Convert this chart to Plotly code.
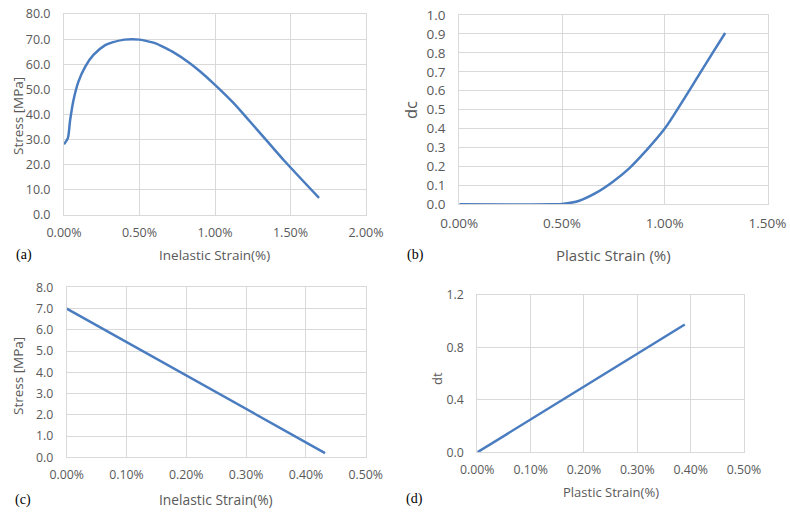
import plotly.graph_objects as go

W, H = 790, 512

# ---------------- data ----------------
# (a) compressive stress vs inelastic strain (strain as fraction)
a_strain = [0.0, 0.00025, 0.0004, 0.00062, 0.00095, 0.0014, 0.00195, 0.00273, 0.0032,
            0.0040, 0.0045, 0.0050, 0.0055, 0.00607, 0.0065, 0.00718, 0.00829, 0.0090,
            0.0100, 0.01122, 0.01233, 0.01344, 0.01456, 0.01689]
a_stress = [28.2, 30.5, 37.5, 45.5, 53.0, 59.0, 63.7, 67.6, 68.7,
            69.8, 70.0, 69.8, 69.2, 68.3, 67.1, 65.0, 60.6, 57.2,
            51.8, 44.6, 37.1, 29.5, 21.8, 6.8]

# (b) compressive damage dc vs plastic strain
b_strain = [0.0, 0.0045, 0.0050, 0.00584, 0.00665, 0.00746, 0.00827, 0.00908,
            0.0100, 0.01087, 0.0117, 0.01236, 0.01294]
b_dc = [0.0, 0.0, 0.002, 0.019, 0.060, 0.118, 0.190, 0.282,
        0.40, 0.545, 0.69, 0.805, 0.905]

# (c) tensile stress vs inelastic strain
c_strain = [0.0, 0.00432]
c_stress = [7.0, 0.2]

# (d) tensile damage dt vs plastic strain
d_strain = [0.0, 0.00389]
d_dt = [0.0, 0.975]

# --------------- styling ---------------
LINE = "#4A7CC0"
GRID = "#D9D9D9"
TXT = "#595959"
FONT = "Open Sans"


def px_x(p):
    return p / W


def px_y(p):
    return 1 - p / H


fig = go.Figure()
fig.add_trace(go.Scatter(x=a_strain, y=a_stress, mode="lines", line_shape="spline",
                         line=dict(color=LINE, width=2.5, smoothing=0.8),
                         xaxis="x", yaxis="y"))
fig.add_trace(go.Scatter(x=b_strain, y=b_dc, mode="lines", line_shape="spline",
                         line=dict(color=LINE, width=2.5, smoothing=1.0),
                         xaxis="x2", yaxis="y2"))
fig.add_trace(go.Scatter(x=c_strain, y=c_stress, mode="lines",
                         line=dict(color=LINE, width=2.5), xaxis="x3", yaxis="y3"))
fig.add_trace(go.Scatter(x=d_strain, y=d_dt, mode="lines",
                         line=dict(color=LINE, width=2.5), xaxis="x4", yaxis="y4"))


def xax(dom, rng, dt, anchor, size):
    return dict(domain=[px_x(dom[0]), px_x(dom[1])], range=rng, dtick=dt, tick0=0,
                tickformat=".2%", anchor=anchor, showgrid=True, gridcolor=GRID,
                gridwidth=1, showline=True, linecolor=GRID, linewidth=1, mirror=True,
                zeroline=False, ticks="", tickfont=dict(family=FONT, size=size, color=TXT),
                ticklabelstandoff=6, fixedrange=True, automargin=False)


def yax(dom, rng, dt, anchor, size):
    return dict(domain=[px_y(dom[1]), px_y(dom[0])], range=rng, dtick=dt, tick0=0,
                tickformat=".1f", anchor=anchor, showgrid=True, gridcolor=GRID,
                gridwidth=1, showline=True, linecolor=GRID, linewidth=1, mirror=True,
                zeroline=False, ticks="", tickfont=dict(family=FONT, size=size, color=TXT),
                ticklabelstandoff=10, fixedrange=True, automargin=False)


fig.update_layout(
    width=W, height=H, margin=dict(l=0, r=0, t=0, b=0, autoexpand=False),
    paper_bgcolor="white", plot_bgcolor="white", showlegend=False,
    xaxis=xax((64, 366), [0, 0.02], 0.005, "y", 12.5),
    yaxis=yax((14, 215), [0, 80], 10, "x", 12.5),
    xaxis2=xax((459.3, 767.5), [0, 0.015], 0.005, "y2", 13.5),
    yaxis2=yax((15, 204.3), [0, 1.0], 0.1, "x2", 13.5),
    xaxis3=xax((66.7, 365.7), [0, 0.005], 0.001, "y3", 12.3),
    yaxis3=yax((287.3, 457.3), [0, 8], 1, "x3", 12.3),
    xaxis4=xax((477.3, 744), [0, 0.005], 0.001, "y4", 12.3),
    yaxis4=yax((295, 452.3), [0, 1.2], 0.4, "x4", 12.3),
)

annots = [
    # x-axis titles
    ("Inelastic Strain(%)", 214, 255, 13.5, 0, FONT, TXT),
    ("Plastic Strain (%)", 613, 255, 15, 0, FONT, TXT),
    ("Inelastic Strain(%)", 216, 499, 13.8, 0, FONT, TXT),
    ("Plastic Strain(%)", 611, 492, 13, 0, FONT, TXT),
    # y-axis titles
    ("Stress [MPa]", 18, 116, 13.5, -90, FONT, TXT),
    ("dc", 410, 110, 16.5, -90, FONT, TXT),
    ("Stress [MPa]", 18, 376, 13.5, -90, FONT, TXT),
    ("dt", 437, 378, 13, -90, FONT, TXT),
    # panel labels
    ("(a)", 24, 255, 14, 0, "Liberation Serif", "black"),
    ("(b)", 415, 255, 14, 0, "Liberation Serif", "black"),
    ("(c)", 23, 500, 14, 0, "Liberation Serif", "black"),
    ("(d)", 414, 499, 14, 0, "Liberation Serif", "black"),
]
for text, x, y, size, ang, fam, col in annots:
    fig.add_annotation(text=text, x=px_x(x), y=px_y(y), xref="paper", yref="paper",
                       xanchor="center", yanchor="middle", showarrow=False,
                       textangle=ang, font=dict(family=fam, size=size, color=col))

fig.write_html("out.html")
